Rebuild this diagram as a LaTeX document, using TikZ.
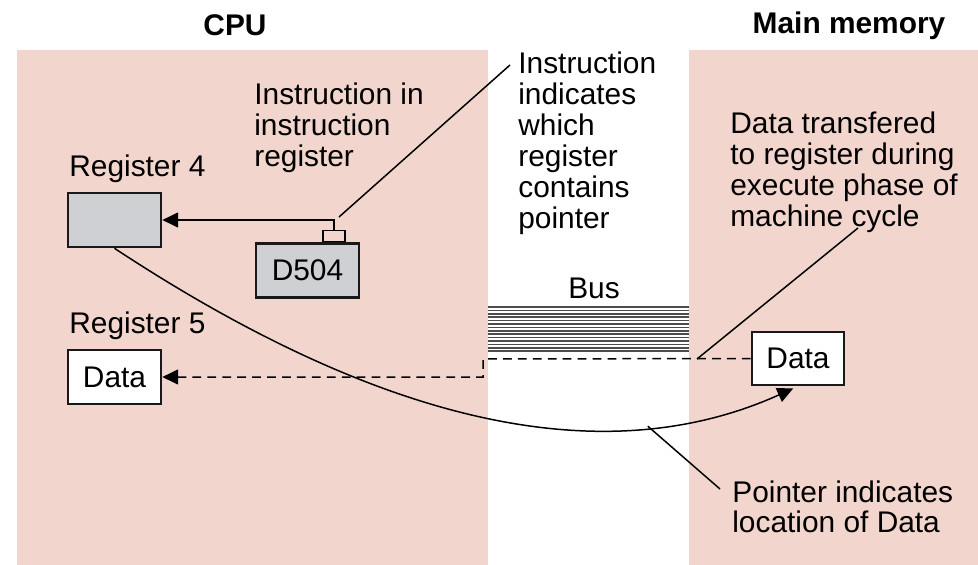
\documentclass[tikz,border=0pt]{standalone}
\usepackage{fontspec}
\setmainfont{Liberation Sans}
\usetikzlibrary{calc}
\usetikzlibrary{arrows.meta}

\definecolor{panelpink}{RGB}{242,214,205}
\definecolor{reggray}{RGB}{207,208,212}

\begin{document}
\begin{tikzpicture}[
  x=0.02cm, y=-0.02cm,
  every node/.style={font=\fontsize{17}{17.6}\selectfont, inner sep=0pt},
  title/.style={font=\fontsize{17}{17.6}\selectfont\bfseries, anchor=north},
  note/.style={anchor=north west, align=left},
  regbox/.style={rectangle, draw=black!90, line width=1.5pt,
    minimum width=1.86cm, minimum height=1.08cm},
  lead/.style={line width=0.85pt},
  flow/.style={line width=0.85pt, -{Triangle[length=9pt,width=8.5pt]}},
  busline/.style={line width=0.9pt, black!70}
]
\useasboundingbox (0,0) rectangle (978,565);

% ====== PANELS ======
\fill[panelpink] (17,50) rectangle (488,565);
\fill[panelpink] (689,50) rectangle (978,565);
\node[title] (cpu) at (235,14) {CPU};
\node[title] (mem) at (849,12) {Main memory};

% ====== BUS ======
\foreach \i in {0,...,13}
  \draw[busline] (488,307+3.4*\i) -- (689,307+3.4*\i);
\node[anchor=north] (bus) at (594,278) {Bus};

% ====== CPU SIDE ======
\node[regbox, fill=reggray] (reg4) at (114.5,220) {};
\node[note] (reg4lbl) at (69,155) {Register 4};

\node[regbox, fill=reggray, minimum width=2.06cm] (ir) at (307.5,270.5) {D504};
\node[draw, line width=0.8pt, minimum width=0.44cm, minimum height=0.22cm,
  anchor=south] (tab) at ($(ir.north)+(26.5,0)$) {};
\node[note] (irnote) at (254,83) {Instruction in\\instruction\\register};

\node[regbox, fill=white] (reg5) at (114.5,377) {Data};
\node[note] (reg5lbl) at (69,312) {Register 5};

\draw[flow] (tab.north) |- (reg4.east);

% ====== MEMORY SIDE ======
\node[regbox, fill=white, minimum width=1.84cm, minimum height=1.06cm]
  (memdata) at (798,358.5) {Data};

\node[note] (whichnote) at (518,52)
  {Instruction\\indicates\\which\\register\\contains\\pointer};
\node[note] (xfernote) at (730,112)
  {Data transfered\\to register during\\execute phase of\\machine cycle};
\node[note] (ptrnote) at (732,480) {Pointer indicates\\location of Data};

% data moves back over the bus
\coordinate (busstep) at (483,359);
\draw[flow, dash pattern=on 5pt off 3.5pt] (memdata.west) -- (busstep) |- (reg5.east);

% register 4 points into memory
\draw[flow, shorten >=3pt] (reg4.south) .. controls (360,410) and (590,480) ..
  (memdata.south) coordinate[pos=0.765] (ptrhit);

% ====== LEADER LINES ======
\coordinate (irhit) at (339,217);
\draw[lead] (irhit) -- ($(whichnote.north west)+(-8,13)$);
\coordinate (bushit) at (697,359);
\draw[lead] (bushit) -- ($(xfernote.north west)+(128,116)$);
\draw[lead] (ptrhit) -- ($(ptrnote.north west)+(-12,9)$);

\end{tikzpicture}
\end{document}
